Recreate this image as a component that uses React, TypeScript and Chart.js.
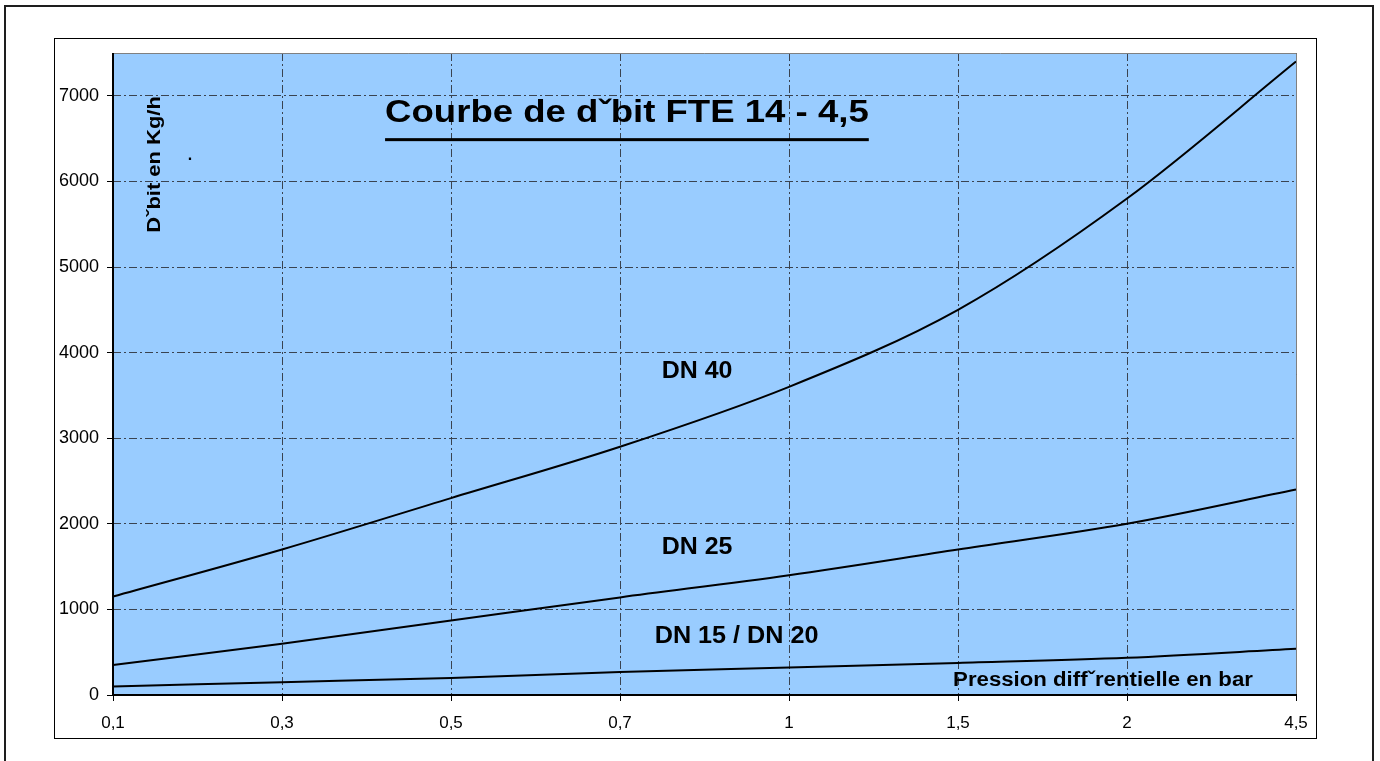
import React, { useEffect, useRef } from 'react';
import { Chart, registerables } from 'chart.js';

Chart.register(...registerables);

// ---- data ----
const pressureLabels = ['0,1', '0,3', '0,5', '0,7', '1', '1,5', '2', '4,5'];
const dn40Values = [1150, 1700, 2300, 2900, 3600, 4500, 5800, 7400];
const dn25Values = [350, 600, 870, 1140, 1400, 1700, 2000, 2400];
const dn15Values = [100, 150, 200, 270, 320, 375, 435, 540];
const seriesNames = ['DN 40', 'DN 25', 'DN 15 / DN 20'];
const yTickValues = [0, 1000, 2000, 3000, 4000, 5000, 6000, 7000];
const yMin = 0;
const yMax = 7500;

const titleText = 'Courbe de d\u02C7bit FTE 14 - 4,5';
const yAxisTitle = 'D\u02C7bit en Kg/h';
const xAxisTitle = 'Pression diff\u02C7rentielle en bar';

const FONT = '"Liberation Sans", Arial, Helvetica, sans-serif';
const GRID_COLOR = '#3a4350';
const PLOT_BG = '#99ccff';

// annotation placement (category index, value) and style
const textLayout = [
  { text: titleText, xi: 3.041, v: 6795, size: 31, sx: 1.18, underline: true, rotate: false },
  { text: seriesNames[0], xi: 3.456, v: 3781, size: 24, sx: 1.04, underline: false, rotate: false },
  { text: seriesNames[1], xi: 3.456, v: 1729, size: 24, sx: 1.04, underline: false, rotate: false },
  { text: seriesNames[2], xi: 3.69, v: 685, size: 24, sx: 1.05, underline: false, rotate: false },
  { text: xAxisTitle, xi: 5.858, v: 175, size: 20, sx: 1.11, underline: false, rotate: false },
  { text: yAxisTitle, xi: 0.2515, v: 6198, size: 18, sx: 1.22, underline: false, rotate: true },
  { text: '.', xi: 0.4556, v: 6300, size: 16, sx: 1, underline: false, rotate: false },
];

const decorPlugin = {
  id: 'decor',
  beforeDraw(chart: any) {
    const { ctx, chartArea: a } = chart;
    ctx.save();
    ctx.fillStyle = '#ffffff';
    ctx.fillRect(0, 0, chart.width, chart.height);
    ctx.strokeStyle = '#1e1e1e';
    ctx.lineWidth = 2;
    ctx.strokeRect(5, 6, 1368, 800);
    ctx.strokeStyle = '#000';
    ctx.lineWidth = 1;
    ctx.strokeRect(54.5, 38.5, 1262, 700);
    ctx.fillStyle = PLOT_BG;
    ctx.fillRect(a.left, a.top, a.right - a.left, a.bottom - a.top);
    ctx.restore();
  },
  afterDraw(chart: any) {
    const { ctx, chartArea: a } = chart;
    const xs = chart.scales.x;
    const ys = chart.scales.y;
    ctx.save();
    ctx.strokeStyle = '#808080';
    ctx.lineWidth = 1;
    ctx.beginPath();
    ctx.moveTo(a.left, a.top + 0.5);
    ctx.lineTo(a.right + 0.5, a.top + 0.5);
    ctx.lineTo(a.right + 0.5, a.bottom);
    ctx.stroke();
    ctx.strokeStyle = '#000';
    ctx.lineWidth = 2;
    ctx.beginPath();
    ctx.moveTo(a.left, a.top);
    ctx.lineTo(a.left, a.bottom);
    ctx.lineTo(a.right + 1, a.bottom);
    ctx.stroke();

    ctx.fillStyle = '#000';
    ctx.textAlign = 'center';
    ctx.textBaseline = 'middle';
    for (const t of textLayout) {
      const px = xs.getPixelForValue(t.xi);
      const py = ys.getPixelForValue(t.v);
      ctx.save();
      ctx.font = `bold ${t.size}px ${FONT}`;
      ctx.translate(px, py);
      if (t.rotate) ctx.rotate(-Math.PI / 2);
      ctx.scale(t.sx, 1);
      ctx.fillText(t.text, 0, 0);
      if (t.underline) {
        const w = ctx.measureText(t.text).width;
        ctx.fillRect(-w / 2, t.size * 0.8, w, 3);
      }
      ctx.restore();
    }
    ctx.restore();
  },
};

export default function App() {
  const ref = useRef<HTMLCanvasElement | null>(null);

  useEffect(() => {
    if (!ref.current) return;
    Chart.defaults.font.family = FONT;
    const mkLine = (label: string, data: number[]) => ({
      label,
      data,
      borderColor: '#000',
      borderWidth: 2,
      pointRadius: 0,
      pointHoverRadius: 0,
      fill: false,
      cubicInterpolationMode: 'monotone' as const,
    });
    const gridCommon = {
      color: GRID_COLOR,
      lineWidth: 1,
      drawTicks: true,
      tickLength: 6,
      tickColor: '#000',
      tickWidth: 1,
      tickBorderDash: [],
    };
    const chart = new Chart(ref.current, {
      type: 'line',
      data: {
        labels: pressureLabels,
        datasets: [
          mkLine(seriesNames[0], dn40Values),
          mkLine(seriesNames[1], dn25Values),
          mkLine(seriesNames[2], dn15Values),
        ],
      },
      options: {
        responsive: false,
        animation: false,
        events: [],
        layout: { padding: { left: 0, right: 84, top: 53, bottom: 26 } },
        plugins: {
          legend: { display: false },
          tooltip: { enabled: false },
          title: { display: false },
        },
        scales: {
          x: {
            type: 'category',
            offset: false,
            ticks: {
              color: '#000',
              font: { size: 17, family: FONT },
              padding: 12,
              maxRotation: 0,
              autoSkip: false,
            },
            grid: gridCommon,
            border: { display: false, dash: [8, 3, 2, 3] },
            afterFit: (s: any) => {
              s.height = 40;
            },
          },
          y: {
            type: 'linear',
            min: yMin,
            max: yMax,
            ticks: {
              color: '#000',
              font: { size: 18, family: FONT },
              padding: 8,
              callback: (v: any) => String(v),
            },
            afterBuildTicks: (s: any) => {
              s.ticks = yTickValues.map((value) => ({ value }));
            },
            grid: gridCommon,
            border: { display: false, dash: [8, 3, 2, 3] },
            afterFit: (s: any) => {
              s.width = 113;
            },
          },
        },
      },
      plugins: [decorPlugin],
    });
    return () => chart.destroy();
  }, []);

  return (
    <canvas
      ref={ref}
      width={1380}
      height={761}
      style={{ position: 'fixed', left: 0, top: 0, width: 1380, height: 761, display: 'block' }}
    />
  );
}
